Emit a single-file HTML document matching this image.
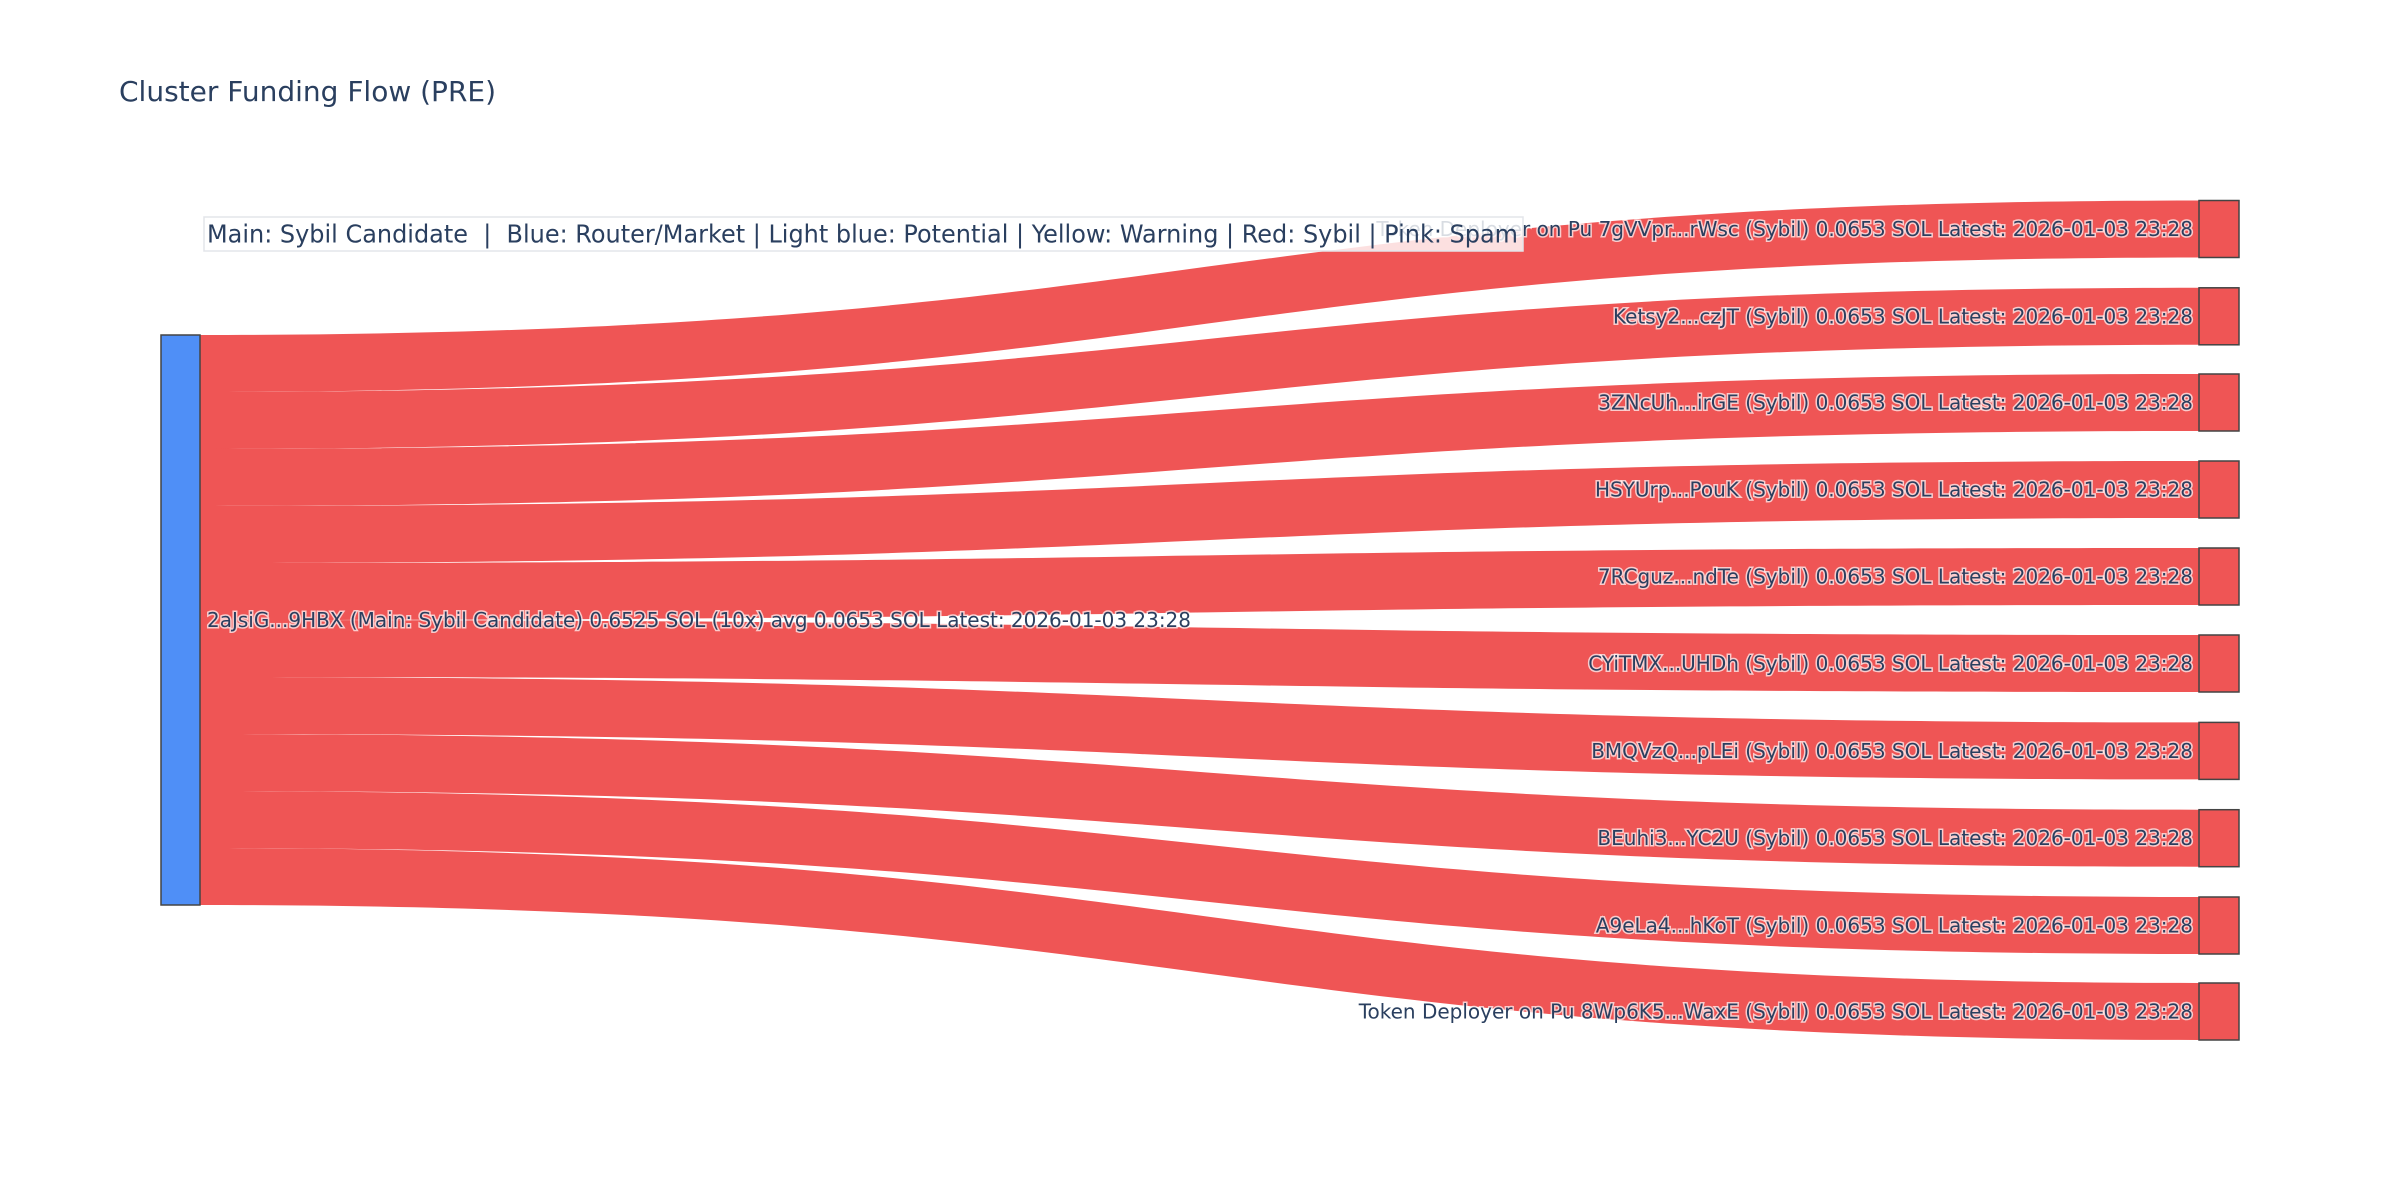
<!DOCTYPE html>
<html><head><meta charset="utf-8"><style>
html,body{margin:0;padding:0;background:#fff;}
svg{display:block;font-family:"DejaVu Sans","Liberation Sans",sans-serif;}
.lbl{font-size:20px;fill:#2a3f5f;paint-order:stroke;stroke:#fff;stroke-width:3px;stroke-opacity:0.7;}
</style></head><body>
<svg width="2400" height="1200" viewBox="0 0 2400 1200" xmlns="http://www.w3.org/2000/svg">
<rect width="2400" height="1200" fill="#fff"/>
<text x="119" y="101" font-size="28" fill="#2a3f5f">Cluster Funding Flow (PRE)</text>
<g id="links" fill="#ef5555"></g>
<rect x="161" y="335" width="39" height="570" fill="#4f8ff7" stroke="#444" stroke-width="1.5"/>
<g id="nodes"></g>
<text class="lbl" x="207" y="620" dominant-baseline="central" textLength="984" lengthAdjust="spacingAndGlyphs">2aJsiG...9HBX (Main: Sybil Candidate) 0.6525 SOL (10x) avg 0.0653 SOL Latest: 2026-01-03 23:28</text>
<g id="labels"></g>
<rect x="204" y="217" width="1319" height="34" fill="#fff" fill-opacity="0.82" stroke="#e3e5ea" stroke-width="1.5"/>
<text x="207" y="234" dominant-baseline="central" font-size="25" fill="#2a3f5f" textLength="1311" lengthAdjust="spacingAndGlyphs">Main: Sybil Candidate&#160; |&#160; Blue: Router/Market | Light blue: Potential | Yellow: Warning | Red: Sybil | Pink: Spam</text>
<script>
var names=["Token Deployer on Pu 7gVVpr...rWsc","Ketsy2...czJT","3ZNcUh...irGE","HSYUrp...PouK","7RCguz...ndTe","CYiTMX...UHDh","BMQVzQ...pLEi","BEuhi3...YC2U","A9eLa4...hKoT","Token Deployer on Pu 8Wp6K5...WaxE"];
var tops=[200.5,287.8,374,461,548,635,722.4,809.7,897,983];
var ns="http://www.w3.org/2000/svg",L=document.getElementById("links"),N=document.getElementById("nodes"),T=document.getElementById("labels");
for(var i=0;i<10;i++){
 var s0=335+57*i,s1=s0+57,t0=tops[i],t1=t0+57,mx=1199.5;
 var p=document.createElementNS(ns,"path");
 p.setAttribute("d","M200,"+s0+" C"+mx+","+s0+" "+mx+","+t0+" 2199,"+t0+" L2199,"+t1+" C"+mx+","+t1+" "+mx+","+s1+" 200,"+s1+" Z");
 L.appendChild(p);
 var r=document.createElementNS(ns,"rect");
 r.setAttribute("x",2199);r.setAttribute("y",t0);r.setAttribute("width",40);r.setAttribute("height",57);
 r.setAttribute("fill","#ef5555");r.setAttribute("stroke","#444");r.setAttribute("stroke-width","1.5");
 N.appendChild(r);
 var t=document.createElementNS(ns,"text");
 t.setAttribute("class","lbl");t.setAttribute("x",2193);t.setAttribute("y",t0+28.5);
 t.setAttribute("text-anchor","end");t.setAttribute("dominant-baseline","central");
 t.textContent=names[i]+" (Sybil) 0.0653 SOL Latest: 2026-01-03 23:28";
 T.appendChild(t);
}
</script>
</svg>
</body></html>
